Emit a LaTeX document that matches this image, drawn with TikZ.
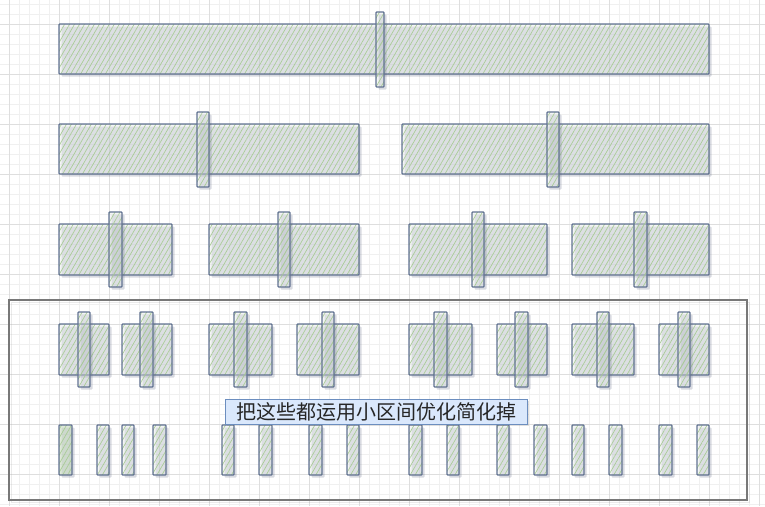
\documentclass[tikz,border=0pt]{standalone}
\usepackage{fontspec}
\newfontfamily\cjk{Noto Sans CJK SC}
\usetikzlibrary{patterns.meta,shadows}
\definecolor{strokec}{RGB}{98,115,146}
\definecolor{hatchc}{RGB}{168,204,148}
\definecolor{fillc}{RGB}{228,231,231}
\definecolor{gridminor}{RGB}{240,240,240}
\definecolor{gridmajor}{RGB}{222,222,222}
\definecolor{labfill}{RGB}{218,232,252}
\definecolor{labdraw}{RGB}{108,142,191}
\definecolor{framec}{RGB}{120,120,120}
\definecolor{shadc}{RGB}{80,90,120}
\tikzset{
  hb/.style={rectangle, inner sep=0pt, outer sep=0pt, draw=strokec, line width=1.2pt,
    rounded corners=0.8pt,
    drop shadow={opacity=0.22, shadow xshift=2.5pt, shadow yshift=-2.5pt, fill=shadc},
    preaction={fill=fillc, fill opacity=0.4},
    pattern={Lines[angle=60,distance=4.3pt,line width=0.65pt]}, pattern color=hatchc},
  hbdark/.style={hb, preaction={fill=hatchc, fill opacity=0.28}},
  frame/.style={rectangle, inner sep=0pt, outer sep=0pt, draw=framec, line width=1.4pt,
    drop shadow={opacity=0.2, shadow xshift=2.5pt, shadow yshift=-2.5pt, fill=none, draw=black!40}},
  lab/.style={rectangle, inner sep=0pt, outer sep=0pt, draw=labdraw, fill=labfill, line width=1pt,
    drop shadow={opacity=0.25, shadow xshift=2pt, shadow yshift=-2pt},
    font=\cjk\fontsize{20}{21}\selectfont, text=black!85}
}
\newcommand\rbox[6]{\node[#2, minimum width={(#5-#3)*1pt}, minimum height={(#6-#4)*1pt}] (#1) at ({(#3+#5)/2},{(#4+#6)/2}) {};}
\begin{document}
\begin{tikzpicture}[x=1pt,y=-1pt]
\useasboundingbox (0,0) rectangle (765,506);
\fill[white] (0,0) rectangle (765,506);
% grid
\foreach \x in {9,19,...,759} \draw[gridminor, line width=0.6pt] (\x,0) -- (\x,506);
\foreach \y in {4,14,...,504} \draw[gridminor, line width=0.6pt] (0,\y) -- (765,\y);
\foreach \x in {9,59,...,759} \draw[gridmajor, line width=0.8pt] (\x,0) -- (\x,506);
\foreach \y in {24,74,...,474} \draw[gridmajor, line width=0.8pt] (0,\y) -- (765,\y);
% frame
\rbox{frame}{frame}{9}{300}{747}{500}
% row 1
\rbox{a1}{hb}{59}{24}{709}{74}
\rbox{a1b}{hb}{376}{12}{384}{87}
% row 2
\rbox{b1}{hb}{59}{124}{359}{174}
\rbox{b1b}{hb}{197}{112}{209}{187}
\rbox{b2}{hb}{402}{124}{709}{174}
\rbox{b2b}{hb}{547}{112}{559}{187}
% row 3
\rbox{c1}{hb}{59}{224}{172}{275}
\rbox{c1b}{hb}{109}{212}{122}{287}
\rbox{c2}{hb}{209}{224}{359}{275}
\rbox{c2b}{hb}{278}{212}{290}{287}
\rbox{c3}{hb}{409}{224}{547}{275}
\rbox{c3b}{hb}{472}{212}{484}{287}
\rbox{c4}{hb}{572}{224}{709}{275}
\rbox{c4b}{hb}{634}{212}{647}{287}
% row 4
\rbox{d1}{hb}{59}{324}{109}{375}
\rbox{d1b}{hb}{78}{312}{90}{387}
\rbox{d2}{hb}{122}{324}{172}{375}
\rbox{d2b}{hb}{140}{312}{153}{387}
\rbox{d3}{hb}{209}{324}{272}{375}
\rbox{d3b}{hb}{234}{312}{247}{387}
\rbox{d4}{hb}{297}{324}{359}{375}
\rbox{d4b}{hb}{322}{312}{334}{387}
\rbox{d5}{hb}{409}{324}{472}{375}
\rbox{d5b}{hb}{434}{312}{447}{387}
\rbox{d6}{hb}{497}{324}{547}{375}
\rbox{d6b}{hb}{515}{312}{528}{387}
\rbox{d7}{hb}{572}{324}{634}{375}
\rbox{d7b}{hb}{597}{312}{609}{387}
\rbox{d8}{hb}{659}{324}{709}{375}
\rbox{d8b}{hb}{678}{312}{690}{387}
% row 5
\rbox{e1}{hbdark}{59}{425}{72}{475}
\rbox{e2}{hb}{97}{425}{109}{475}
\rbox{e3}{hb}{122}{425}{134}{475}
\rbox{e4}{hb}{153}{425}{166}{475}
\rbox{e5}{hb}{222}{425}{234}{475}
\rbox{e6}{hb}{259}{425}{272}{475}
\rbox{e7}{hb}{309}{425}{322}{475}
\rbox{e8}{hb}{347}{425}{359}{475}
\rbox{e9}{hb}{409}{425}{422}{475}
\rbox{e10}{hb}{447}{425}{459}{475}
\rbox{e11}{hb}{497}{425}{509}{475}
\rbox{e12}{hb}{534}{425}{547}{475}
\rbox{e13}{hb}{572}{425}{584}{475}
\rbox{e14}{hb}{609}{425}{622}{475}
\rbox{e15}{hb}{659}{425}{672}{475}
\rbox{e16}{hb}{697}{425}{709}{475}
% label
\node[lab, minimum width=302pt, minimum height=25pt] (label) at (376,411.5) {把这些都运用小区间优化简化掉};
\end{tikzpicture}
\end{document}
